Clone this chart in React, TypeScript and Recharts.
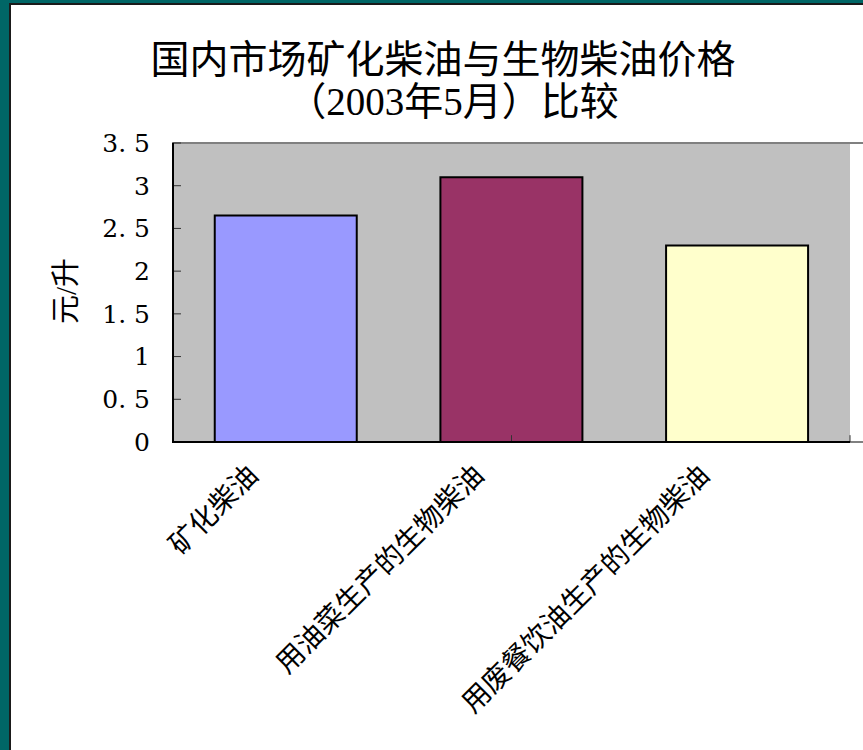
import React from "react";
import {
  BarChart,
  Bar,
  XAxis,
  YAxis,
  Cell,
  CartesianGrid,
  ReferenceArea,
  ReferenceLine,
} from "recharts";

// 数据
const categories = ["矿化柴油", "用油菜生产的生物柴油", "用废餐饮油生产的生物柴油"];
const prices = [2.65, 3.1, 2.3];
const barColors = ["#9999FF", "#993366", "#FFFFCC"];
const yTicks = [0, 0.5, 1, 1.5, 2, 2.5, 3, 3.5];
const boundaryTicks = [1, 2, 3];

const titleLines = ["国内市场矿化柴油与生物柴油价格", "（2003年5月）比较"];
const yLabel = "元/升";

const data = categories.map((name, i) => ({ name, price: prices[i] }));

const CJK = "'Liberation Serif', 'Noto Sans CJK SC', serif";

/**
 * 斜着的分类标签
 */
const CategoryTick = (props: any): JSX.Element => {
  const { x, payload } = props;
  return (
    <g transform={`translate(${x - 26},${477})`}>
      <text
        x={0}
        y={0}
        textAnchor="end"
        transform="rotate(-45)"
        fontSize={28}
        fontFamily={CJK}
        fill="#000"
      >
        {payload.value}
      </text>
    </g>
  );
};

const App: React.FC = (): JSX.Element => {
  return (
    <div
      style={{
        position: "absolute",
        left: 0,
        top: 0,
        width: 863,
        height: 750,
        background: "#006666",
        overflow: "hidden",
      }}
    >
      {/* 白色底 */}
      <div
        style={{
          position: "absolute",
          left: 9,
          top: 3,
          right: 0,
          bottom: 0,
          background: "#fff",
          borderLeft: "2px solid #1a1a1a",
          borderTop: "2px solid #1a1a1a",
        }}
      />
      {/* 图表 */}
      <div style={{ position: "absolute", left: 0, top: 0 }}>
        <BarChart
          width={863}
          height={750}
          data={data}
          margin={{ top: 143, right: 13, bottom: 248, left: 93 }}
          barCategoryGap="18.5%"
        >
          <CartesianGrid fill="#C0C0C0" horizontal={false} vertical={false} />
          <XAxis
            xAxisId="b"
            type="number"
            domain={[0, 3]}
            allowDataOverflow
            hide
          />
          <XAxis
            xAxisId="cat"
            dataKey="name"
            height={60}
            interval={0}
            tickLine={false}
            axisLine={false}
            tick={<CategoryTick />}
          />
          <YAxis
            width={80}
            domain={[0, 3.5]}
            allowDataOverflow
            ticks={yTicks}
            interval={0}
            tickSize={-8}
            tickMargin={31}
            tickLine={{ stroke: "#333" }}
            axisLine={false}
            tickFormatter={(v: number) => String(v).replace(".", ". ")}
            tick={{ fontSize: 25, fontFamily: "'DejaVu Serif', serif", fill: "#000" }}
          />
          <ReferenceArea
            xAxisId="b"
            x1={0}
            x2={3}
            y1={0}
            y2={3.5}
            ifOverflow="visible"
            fill="none"
            stroke="#808080"
            strokeWidth={2}
          />
          {/* 分类分界刻度 */}
          {boundaryTicks.map((t) => (
            <ReferenceLine
              key={`b-${t}`}
              xAxisId="b"
              ifOverflow="visible"
              segment={[
                { x: t, y: 0 },
                { x: t, y: 0.08 },
              ]}
              stroke="#333"
              strokeWidth={1}
            />
          ))}
          <Bar
            xAxisId="cat"
            dataKey="price"
            stroke="#000"
            strokeWidth={2}
            isAnimationActive={false}
          >
            {data.map((_, index) => (
              <Cell key={`cell-${index}`} fill={barColors[index]} />
            ))}
          </Bar>
        </BarChart>
      </div>
      {/* 标题和纵轴名称 */}
      <svg
        width={863}
        height={750}
        style={{ position: "absolute", left: 0, top: 0, pointerEvents: "none" }}
      >
        <line x1={173} y1={143} x2={173} y2={443} stroke="#000" strokeWidth={2} />
        <line x1={172} y1={442} x2={850} y2={442} stroke="#000" strokeWidth={2} />
        <text
          x={443}
          y={59}
          textAnchor="middle"
          dominantBaseline="central"
          fontSize={39}
          fontFamily={CJK}
        >
          {titleLines[0]}
        </text>
        <text
          x={453}
          y={101}
          textAnchor="middle"
          dominantBaseline="central"
          fontSize={39}
          fontFamily={CJK}
        >
          {titleLines[1]}
        </text>
        <text
          x={66}
          y={291}
          textAnchor="middle"
          dominantBaseline="central"
          transform="rotate(-90 66 291)"
          fontSize={29}
          fontFamily={CJK}
        >
          {yLabel}
        </text>
      </svg>
    </div>
  );
};

export default App;
